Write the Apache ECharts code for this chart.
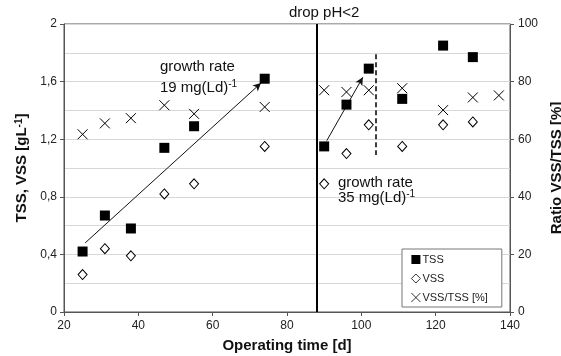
<!DOCTYPE html>
<html>
<head>
<meta charset="utf-8">
<script src="https://cdn.jsdelivr.net/npm/echarts@6/dist/echarts.min.js"></script>
<style>
  html, body { margin: 0; padding: 0; background: #fff; }
  #chart { width: 561px; height: 356px; }
</style>
</head>
<body>
<div id="chart"></div>
<script>
// measured days and values
const tssDays = [25, 31, 38, 47, 55, 74, 90, 96, 102, 111, 122, 130];
const tssVals = [0.42, 0.67, 0.58, 1.14, 1.29, 1.62, 1.15, 1.44, 1.69, 1.48, 1.85, 1.77];
const vssDays = [25, 31, 38, 47, 55, 74, 90, 96, 102, 111, 122, 130];
const vssVals = [0.26, 0.44, 0.39, 0.82, 0.89, 1.15, 0.89, 1.10, 1.30, 1.15, 1.30, 1.32];
const ratioDays = [25, 31, 38, 47, 55, 74, 90, 96, 102, 111, 122, 130, 137];
const ratioVals = [61.7, 65.5, 67.3, 71.8, 68.8, 71.2, 77.0, 76.4, 77.0, 77.7, 70.1, 74.5, 75.2];

const xTicks = {min: 20, max: 140, step: 20};
const leftTicks = {min: 0, max: 2, step: 0.4};
const rightTicks = {min: 0, max: 100, step: 20};

// annotations (data coordinates)
const dropDay = 88;
const dashedLine = [[104, 1.79], [104, 1.09]];
const arrow1 = [[25.7, 0.48], [73, 1.59]];
const arrow2 = [[90.7, 1.19], [100.4, 1.63]];
const notes = [
    {at: [90, 2.08], text: 'drop pH<2', align: 'center'},
    {at: [45.8, 1.70], text: 'growth rate', align: 'left'},
    {at: [45.8, 1.555], text: '19 mg(Ld){s|-1}', align: 'left'},
    {at: [93.7, 0.90], text: 'growth rate', align: 'left'},
    {at: [93.7, 0.795], text: '35 mg(Ld){s|-1}', align: 'left'}
];

const pair = (xs, ys) => xs.map((x, i) => [x, ys[i]]);
const comma = v => String(Math.round(v * 10) / 10).replace('.', ',');
const FONT = 'Liberation Sans, Arial, sans-serif';
const crossPath = 'path://M0,0L10,10M10,0L0,10';

const chart = echarts.init(document.getElementById('chart'));

const option = {
    animation: false,
    textStyle: {fontFamily: FONT},
    grid: {
        left: 64, right: 51, top: 24, bottom: 44,
        outerBoundsMode: 'none',
        show: true, borderColor: '#555', borderWidth: 1
    },
    legend: {
        orient: 'vertical',
        left: 402,
        top: 249,
        padding: [5, 14, 4, 9],
        itemGap: 8,
        itemWidth: 9,
        itemHeight: 9,
        borderColor: '#777',
        borderWidth: 1,
        backgroundColor: '#fff',
        itemStyle: {borderWidth: 0.8, opacity: 1},
        textStyle: {fontFamily: FONT, fontSize: 11, color: '#222', padding: [0, 0, 0, -3]},
        data: ['TSS', 'VSS', 'VSS/TSS [%]']
    },
    xAxis: {
        type: 'value',
        min: xTicks.min, max: xTicks.max, interval: xTicks.step,
        name: 'Operating time [d]',
        nameLocation: 'middle',
        nameGap: 26,
        nameTextStyle: {fontFamily: FONT, fontSize: 15, fontWeight: 'bold', color: '#111'},
        axisLine: {lineStyle: {color: '#555'}},
        axisTick: {length: 4, lineStyle: {color: '#555'}},
        axisLabel: {fontSize: 12, color: '#222', margin: 8},
        splitLine: {show: false}
    },
    yAxis: [
        {
            type: 'value', position: 'left',
            min: leftTicks.min, max: leftTicks.max, interval: leftTicks.step,
            name: 'TSS, VSS [gL{s|-1}]',
            nameLocation: 'middle',
            nameGap: 34,
            nameRotate: 90,
            nameTextStyle: {fontFamily: FONT, fontSize: 15, fontWeight: 'bold', color: '#111',
                rich: {s: {fontSize: 10, fontWeight: 'bold', verticalAlign: 'top', padding: [0, 0, 6, 0]}}},
            axisLine: {show: true, lineStyle: {color: '#555'}},
            axisTick: {show: true, length: 4, lineStyle: {color: '#555'}},
            axisLabel: {fontSize: 12, color: '#222', margin: 7, formatter: comma},
            splitLine: {show: false}
        },
        {
            type: 'value', position: 'right',
            min: rightTicks.min, max: rightTicks.max, interval: rightTicks.step,
            name: 'Ratio VSS/TSS [%]',
            nameLocation: 'middle',
            nameGap: 30,
            nameRotate: 90,
            nameTextStyle: {fontFamily: FONT, fontSize: 15, fontWeight: 'bold', color: '#111'},
            axisLine: {show: true, lineStyle: {color: '#555'}},
            axisTick: {show: true, length: 4, lineStyle: {color: '#555'}},
            axisLabel: {fontSize: 12, color: '#222', margin: 8},
            splitLine: {show: false}
        },
        {
            type: 'value', position: 'left',
            min: leftTicks.min, max: leftTicks.max, interval: leftTicks.step / 2,
            axisLine: {show: false}, axisTick: {show: false}, axisLabel: {show: false},
            splitLine: {show: true, lineStyle: {color: '#d8d8d8', width: 1}}
        }
    ],
    series: [
        {
            name: 'TSS', type: 'scatter', yAxisIndex: 0, z: 5,
            symbol: 'rect', symbolSize: 10,
            itemStyle: {color: '#000', opacity: 1},
            data: pair(tssDays, tssVals),
            markLine: {
                silent: true,
                symbol: ['none', 'arrow'],
                symbolSize: [6, 8],
                label: {show: false},
                lineStyle: {color: '#111', width: 1, type: 'solid', opacity: 1},
                data: [
                    [{coord: arrow1[0]}, {coord: arrow1[1]}],
                    [{coord: arrow2[0]}, {coord: arrow2[1]}]
                ]
            }
        },
        {
            name: 'VSS', type: 'scatter', yAxisIndex: 0, z: 5,
            symbol: 'diamond', symbolSize: [9, 10],
            itemStyle: {color: '#fff', borderColor: '#000', borderWidth: 1, opacity: 1},
            data: pair(vssDays, vssVals),
            markLine: {
                silent: true,
                symbol: ['none', 'none'],
                label: {show: false},
                data: [
                    [{xAxis: dropDay, yAxis: leftTicks.min, lineStyle: {color: '#000', width: 2, type: 'solid', opacity: 1}},
                     {xAxis: dropDay, yAxis: leftTicks.max}],
                    [{coord: dashedLine[0], lineStyle: {color: '#000', width: 1.5, type: [5, 3], opacity: 1}},
                     {coord: dashedLine[1]}]
                ]
            }
        },
        {
            name: 'VSS/TSS [%]', type: 'scatter', yAxisIndex: 1, z: 5,
            symbol: crossPath, symbolSize: 10,
            itemStyle: {color: 'transparent', borderColor: '#000', borderWidth: 1, opacity: 1},
            data: pair(ratioDays, ratioVals)
        }
    ]
};

chart.setOption(option);

chart.setOption({
    graphic: notes.map(n => {
        const p = chart.convertToPixel({xAxisIndex: 0, yAxisIndex: 0}, n.at);
        return {
            type: 'text', x: p[0], y: p[1], z: 10,
            style: {
                text: n.text, fill: '#111', font: '15px ' + FONT,
                textAlign: n.align, textVerticalAlign: 'middle',
                rich: {s: {fontSize: 10, verticalAlign: 'top', padding: [0, 0, 7, 0], fill: '#111'}}
            }
        };
    })
});
</script>
</body>
</html>
